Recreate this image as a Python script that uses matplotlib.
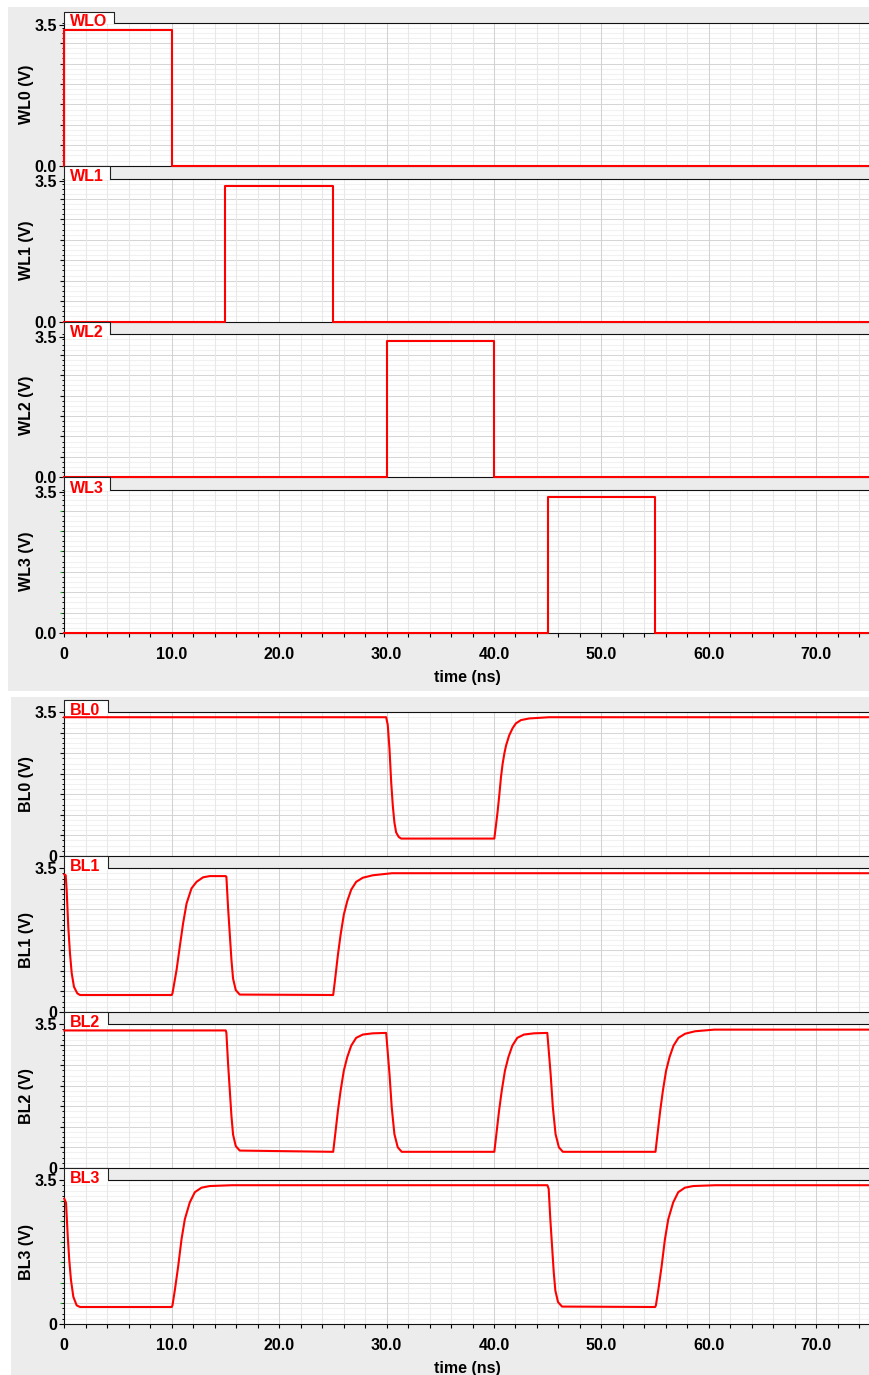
import numpy as np
import matplotlib.pyplot as plt
from matplotlib.patches import Rectangle
from matplotlib.lines import Line2D

plt.rcParams['font.family'] = ['Liberation Sans', 'DejaVu Sans']

# word line pulses (ns, V)
wl0_t = [0, 0, 10, 10, 75]
wl0_v = [0, 3.38, 3.38, 0, 0]
wl1_t = [0, 15, 15, 25, 25, 75]
wl1_v = [0, 0, 3.38, 3.38, 0, 0]
wl2_t = [0, 30, 30, 40, 40, 75]
wl2_v = [0, 0, 3.38, 3.38, 0, 0]
wl3_t = [0, 45, 45, 55, 55, 75]
wl3_v = [0, 0, 3.38, 3.38, 0, 0]

# bit lines
bl0_t = [0, 29.96, 30.11, 30.27, 30.43, 30.58, 30.73, 30.89, 31.13, 31.36,
         40.03, 40.19, 40.34, 40.50, 40.65, 40.80, 40.96, 41.12, 41.42, 41.73, 42.04, 42.51, 43.28, 45.14, 75]
bl0_v = [3.38, 3.38, 3.19, 2.61, 1.79, 1.22, 0.81, 0.57, 0.46, 0.42,
         0.42, 0.76, 1.09, 1.50, 1.92, 2.24, 2.49, 2.69, 2.94, 3.11, 3.23, 3.31, 3.35, 3.38, 3.38]

bl1_t = [0, 0.13, 0.22, 0.37, 0.53, 0.69, 0.90, 1.21, 1.46,
         10.0, 10.07, 10.45, 10.75, 11.06, 11.38, 11.84, 12.31, 12.92, 13.54,
         15.03, 15.09, 15.24, 15.40, 15.56, 15.71, 15.96, 16.33,
         25.03, 25.22, 25.47, 25.72, 26.02, 26.34, 26.71, 27.17, 27.79, 28.72, 30.5, 75]
bl1_v = [3.35, 3.33, 2.97, 2.07, 1.42, 0.94, 0.61, 0.45, 0.41,
         0.41, 0.45, 1.02, 1.59, 2.16, 2.64, 3.01, 3.17, 3.28, 3.31,
         3.31, 3.29, 2.56, 1.91, 1.26, 0.81, 0.53, 0.42,
         0.41, 0.82, 1.39, 1.88, 2.37, 2.70, 2.98, 3.17, 3.27, 3.33, 3.38, 3.38]

bl2_t = [0, 15.03, 15.09, 15.24, 15.40, 15.56, 15.71, 15.96, 16.33,
         25.03, 25.22, 25.47, 25.72, 26.02, 26.34, 26.71, 27.17, 27.79, 28.72, 29.96,
         30.02, 30.27, 30.48, 30.73, 31.04, 31.41,
         40.03, 40.22, 40.47, 40.72, 41.02, 41.34, 41.71, 42.17, 42.79, 43.72, 44.96,
         45.02, 45.27, 45.48, 45.73, 46.04, 46.41,
         55.03, 55.22, 55.47, 55.72, 56.02, 56.34, 56.71, 57.17, 57.79, 58.72, 60.5, 75]
bl2_v = [3.35, 3.35, 3.29, 2.56, 1.91, 1.26, 0.81, 0.53, 0.42,
         0.39, 0.82, 1.39, 1.88, 2.37, 2.70, 2.98, 3.17, 3.25, 3.28, 3.29,
         3.10, 2.29, 1.47, 0.82, 0.50, 0.39,
         0.39, 0.82, 1.39, 1.88, 2.37, 2.70, 2.98, 3.17, 3.25, 3.28, 3.29,
         3.10, 2.29, 1.47, 0.82, 0.50, 0.39,
         0.39, 0.82, 1.39, 1.88, 2.37, 2.70, 2.98, 3.17, 3.27, 3.33, 3.37, 3.37]

bl3_t = [0, 0.16, 0.32, 0.46, 0.62, 0.84, 1.15, 1.46,
         10.0, 10.07, 10.29, 10.60, 10.91, 11.22, 11.68, 12.15, 12.77, 13.54, 15.6,
         44.97, 45.09, 45.24, 45.40, 45.56, 45.71, 45.96, 46.33,
         55.0, 55.07, 55.29, 55.60, 55.91, 56.22, 56.68, 57.15, 57.77, 58.54, 60.6, 75]
bl3_v = [3.05, 2.95, 2.14, 1.56, 1.07, 0.66, 0.45, 0.41,
         0.41, 0.45, 0.82, 1.40, 2.06, 2.55, 2.96, 3.21, 3.32, 3.36, 3.38,
         3.38, 3.29, 2.56, 1.91, 1.26, 0.81, 0.53, 0.42,
         0.41, 0.45, 0.82, 1.40, 2.06, 2.55, 2.96, 3.21, 3.32, 3.36, 3.38, 3.38]

wl_tabs = ['WLO', 'WL1', 'WL2', 'WL3']
wl_ylabels = ['WL0 (V)', 'WL1 (V)', 'WL2 (V)', 'WL3 (V)']
bl_tabs = ['BL0', 'BL1', 'BL2', 'BL3']
bl_ylabels = ['BL0 (V)', 'BL1 (V)', 'BL2 (V)', 'BL3 (V)']
xtick_vals = [0, 10, 20, 30, 40, 50, 60, 70]
xtick_labels = ['0', '10.0', '20.0', '30.0', '40.0', '50.0', '60.0', '70.0']

W, H = 870, 1375
L, R = 64.3, 870
FS = 11.5

fig = plt.figure(figsize=(W / 100, H / 100), dpi=100)
fig.patch.set_facecolor('white')
# the two grey window backgrounds
fig.patches.append(Rectangle((8 / W, 1 - 690.5 / H), (W - 8) / W, (690.5 - 6.5) / H,
                             transform=fig.transFigure, facecolor='#ececec', edgecolor='none', zorder=-10))
fig.patches.append(Rectangle((11 / W, 0), (W - 11) / W, (H - 697) / H,
                             transform=fig.transFigure, facecolor='#ececec', edgecolor='none', zorder=-10))


def panel(top, h, tab_h, tab_w, tab, ylab, t, v, ymax, zero_lbl, last):
    ax = fig.add_axes([L / W, 1 - (top + h) / H, (R - L) / W, h / H])
    ax.set_facecolor('white')
    ax.set_xlim(0, 75)
    ax.set_ylim(0, ymax)

    # grid
    for x in range(0, 76, 2):
        ax.axvline(x, color='#d2d2d2' if x % 10 == 0 else '#e8e8e8', lw=0.75, zorder=0.6)
    for k, y in enumerate(np.linspace(0, ymax, 29)):
        ax.axhline(y, color='#d6d6d6' if k % 4 == 0 else '#f1f1f1', lw=0.75, zorder=0.5)

    ax.plot(t, v, color='#ff0000', lw=1.5, zorder=3, clip_on=False)

    for s in ['top', 'left', 'bottom']:
        ax.spines[s].set_color('#111111')
        ax.spines[s].set_linewidth(0.8)
    ax.spines['right'].set_visible(False)

    # y ticks: labelled 0 / 3.5, small ones between
    ax.set_yticks([0, 3.5], [zero_lbl, '3.5'])
    ax.set_yticks(np.linspace(0, ymax, 29), minor=True)
    ax.tick_params(axis='y', which='major', length=3.6, width=0.8, pad=1.8, labelsize=FS)
    ax.tick_params(axis='y', which='minor', length=1.8, width=0.7)
    for lb in ax.get_yticklabels():
        lb.set_fontweight('bold')
    sec = ax.secondary_yaxis('left')
    sec.set_yticks(np.linspace(0, ymax, 8)[1:-1])
    sec.tick_params(length=3.2, width=0.8, labelleft=False,
                    color='#22b422' if last else '#111111')
    sec.spines['left'].set_visible(False)

    ax.set_ylabel(ylab, fontsize=FS, fontweight='bold')
    ax.yaxis.set_label_coords((34.5 - L) / (R - L), 0.5)

    if last:
        ax.set_xticks(xtick_vals, xtick_labels)
        ax.set_xticks(range(0, 75, 2), minor=True)
        ax.tick_params(axis='x', which='both', length=3.0, width=0.8, pad=7, labelsize=FS)
        for lb in ax.get_xticklabels():
            lb.set_fontweight('bold')
        ax.set_xlabel('time (ns)', fontsize=FS, fontweight='bold')
        ax.xaxis.set_label_coords(0.5, -(670 - 633) / h)
    else:
        ax.set_xticks([])

    # name tab sitting on top of the plot
    tw = tab_w / (R - L)
    th = tab_h / h
    ax.add_patch(Rectangle((0, 1 - 1.2 / h), tw, th + 1.2 / h, transform=ax.transAxes,
                           facecolor='white', edgecolor='none', clip_on=False, zorder=4))
    ax.add_line(Line2D([0, 0, tw, tw], [1 - 1 / h, 1 + th, 1 + th, 1], transform=ax.transAxes,
                       color='#222222', lw=0.8, clip_on=False, zorder=5))
    ax.text(5.5 / (R - L), 1 - 2.8 / h, tab, transform=ax.transAxes, color='#ff0000',
            fontsize=FS, fontweight='bold', va='baseline', ha='left', zorder=6, clip_on=False)
    return ax


wl_t = [wl0_t, wl1_t, wl2_t, wl3_t]
wl_v = [wl0_v, wl1_v, wl2_v, wl3_v]
for i in range(4):
    panel(22.7 + i * 155.8, 143, 11 if i == 0 else 12.8, 49.7 if i == 0 else 45.7,
          wl_tabs[i], wl_ylabels[i], wl_t[i], wl_v[i], 3.557, '0.0', i == 3)

bl_t = [bl0_t, bl1_t, bl2_t, bl3_t]
bl_v = [bl0_v, bl1_v, bl2_v, bl3_v]
for i in range(4):
    panel(712.3 + i * 156, 143.5, 12.3 if i == 0 else 12.5, 44,
          bl_tabs[i], bl_ylabels[i], bl_t[i], bl_v[i], 3.5, '0', i == 3)

fig.savefig('out.png', dpi=100)
